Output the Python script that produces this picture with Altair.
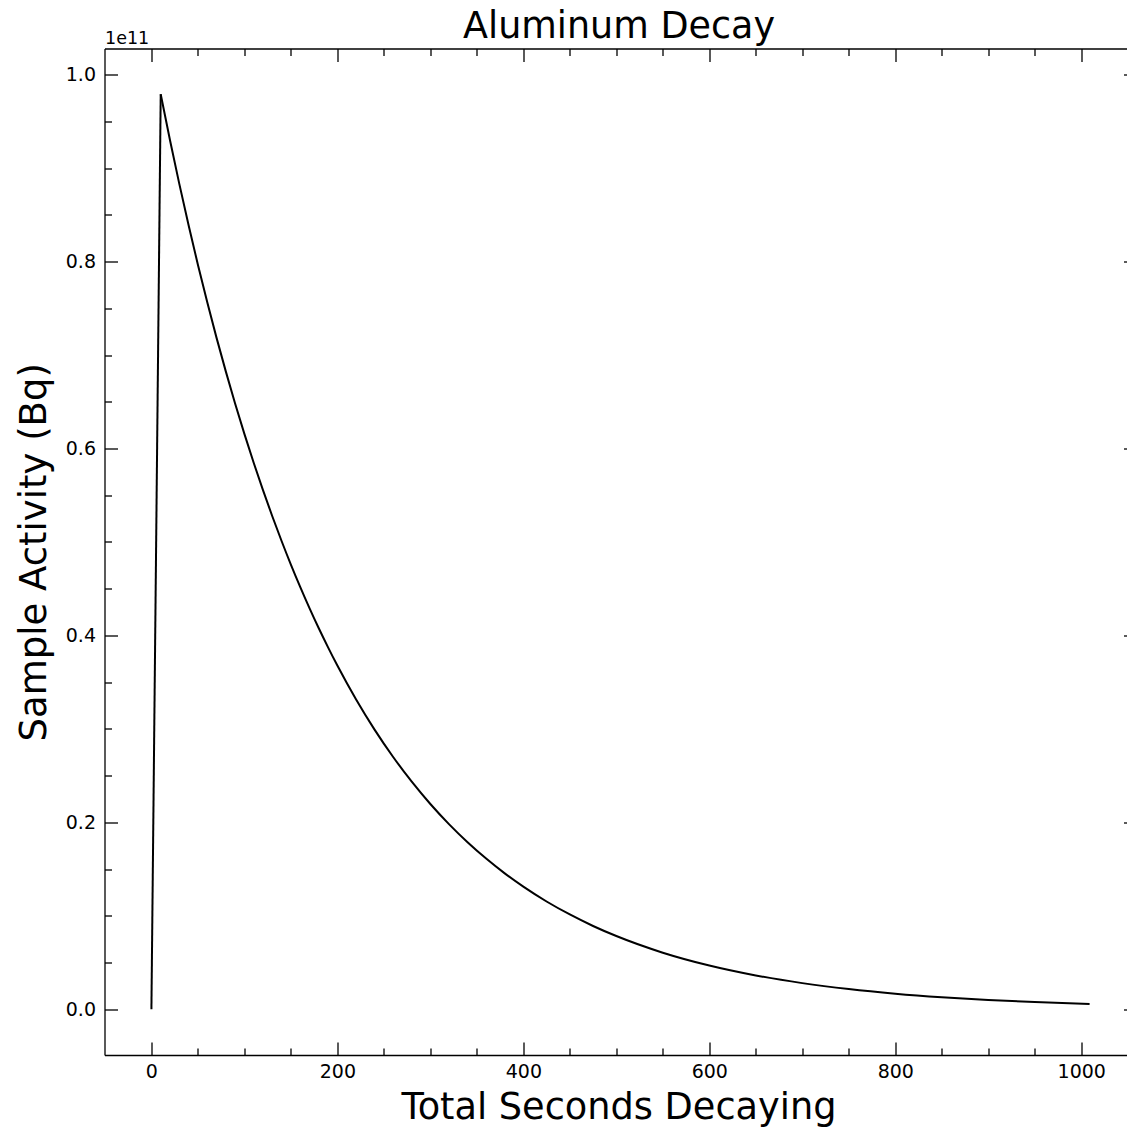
import altair as alt
import pandas as pd

# Activity of the irradiated aluminium sample over time
seconds = [0, 10, 20, 30, 40, 50, 60, 70, 80, 90, 100, 110, 120, 130, 140,
           150, 160, 170, 180, 190, 200, 220, 240, 260, 280, 300, 320, 340,
           360, 380, 400, 425, 450, 475, 500, 550, 600, 650, 700, 750, 800,
           850, 900, 950, 1009]
activity_bq = [0.0, 9.790e10, 9.298e10, 8.831e10, 8.388e10, 7.966e10,
               7.566e10, 7.186e10, 6.825e10, 6.482e10, 6.156e10, 5.847e10,
               5.554e10, 5.275e10, 5.010e10, 4.758e10, 4.519e10, 4.292e10,
               4.076e10, 3.872e10, 3.677e10, 3.317e10, 2.992e10, 2.699e10,
               2.435e10, 2.196e10, 1.981e10, 1.787e10, 1.612e10, 1.454e10,
               1.312e10, 1.153e10, 1.014e10, 8.910e9, 7.833e9, 6.053e9,
               4.679e9, 3.616e9, 2.795e9, 2.160e9, 1.669e9, 1.290e9,
               9.97e8, 7.71e8, 5.68e8]

x_major = [0, 200, 400, 600, 800, 1000]
x_minor = [50, 100, 150, 250, 300, 350, 450, 500, 550, 650, 700, 750,
           850, 900, 950, 1050]
y_major = [0, 2e10, 4e10, 6e10, 8e10, 1e11]
y_minor = [5e9, 1e10, 1.5e10, 2.5e10, 3e10, 3.5e10, 4.5e10, 5e10, 5.5e10,
           6.5e10, 7e10, 7.5e10, 8.5e10, 9e10, 9.5e10]

# rising edge (first two samples) and decay (from the peak on) as two strokes
rise = pd.DataFrame({"t": seconds[:2], "a": activity_bq[:2], "phase": "rise"})
decay = pd.DataFrame({"t": seconds[1:], "a": activity_bq[1:], "phase": "decay"})
df = pd.concat([rise, decay], ignore_index=True)

FONT = "DejaVu Sans"
LEFT, TOP, BOTTOM = 104.5, 48.5, 73
VIEW_W = 1127 - LEFT        # visible part of the plot area
FULL_W = 1032               # full x range of the axes box (right spine off-page)
H = 1006.5
MAJOR, MINOR = 13, 7

xs = alt.Scale(domain=[-50.45, 1059.45], range=[0, FULL_W], nice=False, zero=False)
ys = alt.Scale(domain=[-4.895e9, 1.02795e11], nice=False, zero=False)

common = dict(grid=False, tickColor="black", tickWidth=1.3,
              labelFont=FONT, labelFontSize=19, labelColor="black",
              labelFlush=False, labelOverlap=False, labelBound=False,
              titleFont=FONT, titleColor="black", titleFontWeight="normal",
              domainColor="black", domainWidth=1.3)


def ax(orient, values, size, offset=None, labels=False, domain=False, **kw):
    opts = dict(common)
    opts.update(kw)
    if "title" not in opts:
        opts["title"] = None
    return alt.Axis(orient=orient, values=values, tickSize=size,
                    ticks=size > 0, offset=-size if offset is None else offset,
                    labels=labels, domain=domain, **opts)


base = alt.Chart(df)

curve = base.mark_line(color="black", strokeWidth=2, interpolate="monotone").encode(
    x=alt.X("t:Q", scale=xs, axis=ax(
        "bottom", x_major, MAJOR, labels=True, labelPadding=7,
        labelExpr="format(datum.value, 'd')",
        title="Total Seconds Decaying", titleX=514, titleY=76,
        titleAlign="center", titleBaseline="alphabetic", titleFontSize=36.7)),
    y=alt.Y("a:Q", scale=ys, axis=ax(
        "left", y_major, MAJOR, labels=True, labelPadding=9,
        labelExpr="format(datum.value / 1e11, '.1f')",
        title="Sample Activity (Bq)", titleX=-72.5, titleY=H / 2,
        titleAngle=270, titleAlign="center", titleBaseline="alphabetic",
        titleFontSize=37)),
    detail="phase:N",
)

minor_bl = base.mark_line(opacity=0).encode(
    x=alt.X("t:Q", scale=xs, axis=ax("bottom", x_minor, MINOR)),
    y=alt.Y("a:Q", scale=ys, axis=ax("left", y_minor, MINOR)),
)

major_tr = base.mark_line(opacity=0).encode(
    x=alt.X("t:Q", scale=xs, axis=ax(
        "top", x_major, MAJOR, title="Aluminum Decay", titleX=514,
        titleY=-24.5, titleAlign="center", titleBaseline="alphabetic",
        titleFontSize=36.5)),
    y=alt.Y("a:Q", scale=ys, axis=ax(
        "right", y_major, MAJOR, offset=(FULL_W - MAJOR) - VIEW_W)),
)

minor_tr = base.mark_line(opacity=0).encode(
    x=alt.X("t:Q", scale=xs, axis=ax(
        "top", x_minor, MINOR, title="1e11", titleX=0, titleY=-12.5,
        titleAlign="left", titleBaseline="alphabetic", titleFontSize=17.5)),
    y=alt.Y("a:Q", scale=ys, axis=ax(
        "right", y_minor, MINOR, offset=(FULL_W - MINOR) - VIEW_W)),
)

# spines on the bottom, left and top edges
frame_bl = base.mark_line(opacity=0).encode(
    x=alt.X("t:Q", scale=xs, axis=ax("bottom", [], 0, offset=0, domain=True)),
    y=alt.Y("a:Q", scale=ys, axis=ax("left", [], 0, offset=0, domain=True)),
)
frame_t = base.mark_line(opacity=0).encode(
    x=alt.X("t:Q", scale=xs, axis=ax("top", [], 0, offset=0, domain=True)),
    y=alt.Y("a:Q", scale=ys, axis=None),
)

chart = (
    alt.layer(curve, minor_bl, major_tr, minor_tr, frame_bl, frame_t)
    .resolve_axis(x="independent", y="independent")
    .properties(
        width=VIEW_W,
        height=H,
        autosize=alt.AutoSizeParams(type="none"),
        padding={"left": LEFT, "top": TOP, "right": 0, "bottom": BOTTOM},
        background="white",
    )
    .configure_view(stroke=None)
)

chart.save("out.html", embed_options={"renderer": "svg", "actions": False})
